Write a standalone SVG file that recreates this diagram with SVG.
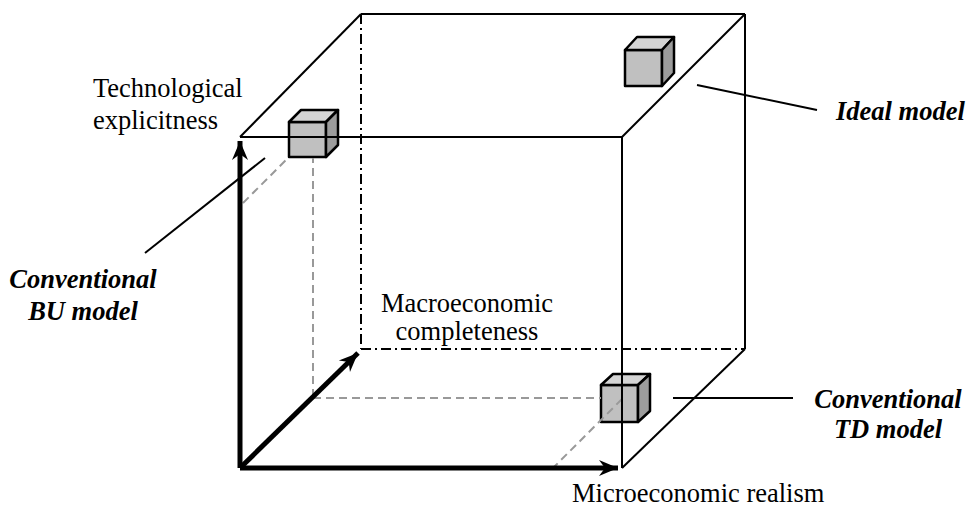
<svg xmlns="http://www.w3.org/2000/svg" width="968" height="510" viewBox="0 0 968 510">
<style>
.edge{stroke:#000;stroke-width:2;fill:none}
.hidden{stroke:#000;stroke-width:2;fill:none;stroke-dasharray:10 4 2 4}
.proj{stroke:#999;stroke-width:2;fill:none;stroke-dasharray:8 5}
.axis{stroke:#000;stroke-width:5;fill:none}
.lead{stroke:#000;stroke-width:2;fill:none}
.front{fill:#c0c0c0;stroke:#000;stroke-width:2.5;stroke-linejoin:round}
.top{fill:#d4d4d4;stroke:#000;stroke-width:2.5;stroke-linejoin:round}
.side{fill:#9c9c9c;stroke:#000;stroke-width:2.5;stroke-linejoin:round}
.lbl{font-family:"Liberation Serif","Times New Roman",serif;font-size:26.5px;fill:#000}
.bi{font-family:"Liberation Serif","Times New Roman",serif;font-size:26.5px;font-weight:bold;font-style:italic;fill:#000}
</style>
<defs>
<marker id="ah" markerUnits="userSpaceOnUse" markerWidth="24" markerHeight="20" viewBox="-20 -10 24 20" refX="0" refY="0" orient="auto">
<path d="M0,0 L-19,-8 L-13,0 L-19,8 Z" fill="#000"/>
</marker>
</defs>
<rect width="968" height="510" fill="#fff"/>
<g id="cube-bu">
<polygon class="front" points="289,122 326,122 326,157 289,157"/>
<polygon class="top" points="289,122 301,110 338,110 326,122"/>
<polygon class="side" points="326,122 338,110 338,145 326,157"/>
</g>
<g id="cube-ideal">
<polygon class="front" points="625,50 662,50 662,86 625,86"/>
<polygon class="top" points="625,50 637,37 674,37 662,50"/>
<polygon class="side" points="662,50 674,37 674,73 662,86"/>
</g>
<g id="cube-td">
<polygon class="front" points="601,385 638,385 638,422 601,422"/>
<polygon class="top" points="601,385 613,374 650,374 638,385"/>
<polygon class="side" points="638,385 650,374 650,411 638,422"/>
</g>
<g id="connectors">
<line class="proj" x1="243" y1="203" x2="289" y2="157"/>
<line class="proj" x1="313" y1="397" x2="313" y2="158"/>
<line class="proj" x1="313" y1="398" x2="601" y2="398"/>
<line class="proj" x1="622" y1="399" x2="553" y2="468"/>
<line class="hidden" x1="361" y1="14" x2="361" y2="349"/>
<line class="hidden" x1="361" y1="349" x2="745" y2="349"/>
<line class="edge" x1="240" y1="137" x2="622" y2="137"/>
<line class="edge" x1="622" y1="137" x2="622" y2="468"/>
<line class="edge" x1="240" y1="137" x2="361" y2="14"/>
<line class="edge" x1="361" y1="14" x2="745" y2="14"/>
<line class="edge" x1="745" y1="14" x2="745" y2="349"/>
<line class="edge" x1="622" y1="137" x2="745" y2="14"/>
<line class="edge" x1="622" y1="468" x2="745" y2="349"/>
<line class="axis" x1="240" y1="468" x2="240" y2="141" marker-end="url(#ah)"/>
<line class="axis" x1="240" y1="468" x2="618" y2="468" marker-end="url(#ah)"/>
<line class="axis" x1="240" y1="468" x2="358" y2="353" marker-end="url(#ah)"/>
<line class="lead" x1="265" y1="158" x2="145" y2="253"/>
<line class="lead" x1="697" y1="85" x2="817" y2="110"/>
<line class="lead" x1="673" y1="398" x2="793" y2="398"/>
</g>
<g id="label-tech">
<text class="lbl" x="93" y="97">Technological</text>
<text class="lbl" x="93" y="129">explicitness</text>
</g>
<g id="label-macro">
<text class="lbl" x="467" y="312" text-anchor="middle">Macroeconomic</text>
<text class="lbl" x="467" y="340" text-anchor="middle">completeness</text>
</g>
<g id="label-micro">
<text class="lbl" x="572" y="502">Microeconomic realism</text>
</g>
<g id="label-bu">
<text class="bi" x="83" y="288" text-anchor="middle">Conventional</text>
<text class="bi" x="83" y="320" text-anchor="middle">BU model</text>
</g>
<g id="label-ideal">
<text class="bi" x="836" y="120">Ideal model</text>
</g>
<g id="label-td">
<text class="bi" x="888" y="408" text-anchor="middle">Conventional</text>
<text class="bi" x="888" y="438" text-anchor="middle">TD model</text>
</g>
</svg>
